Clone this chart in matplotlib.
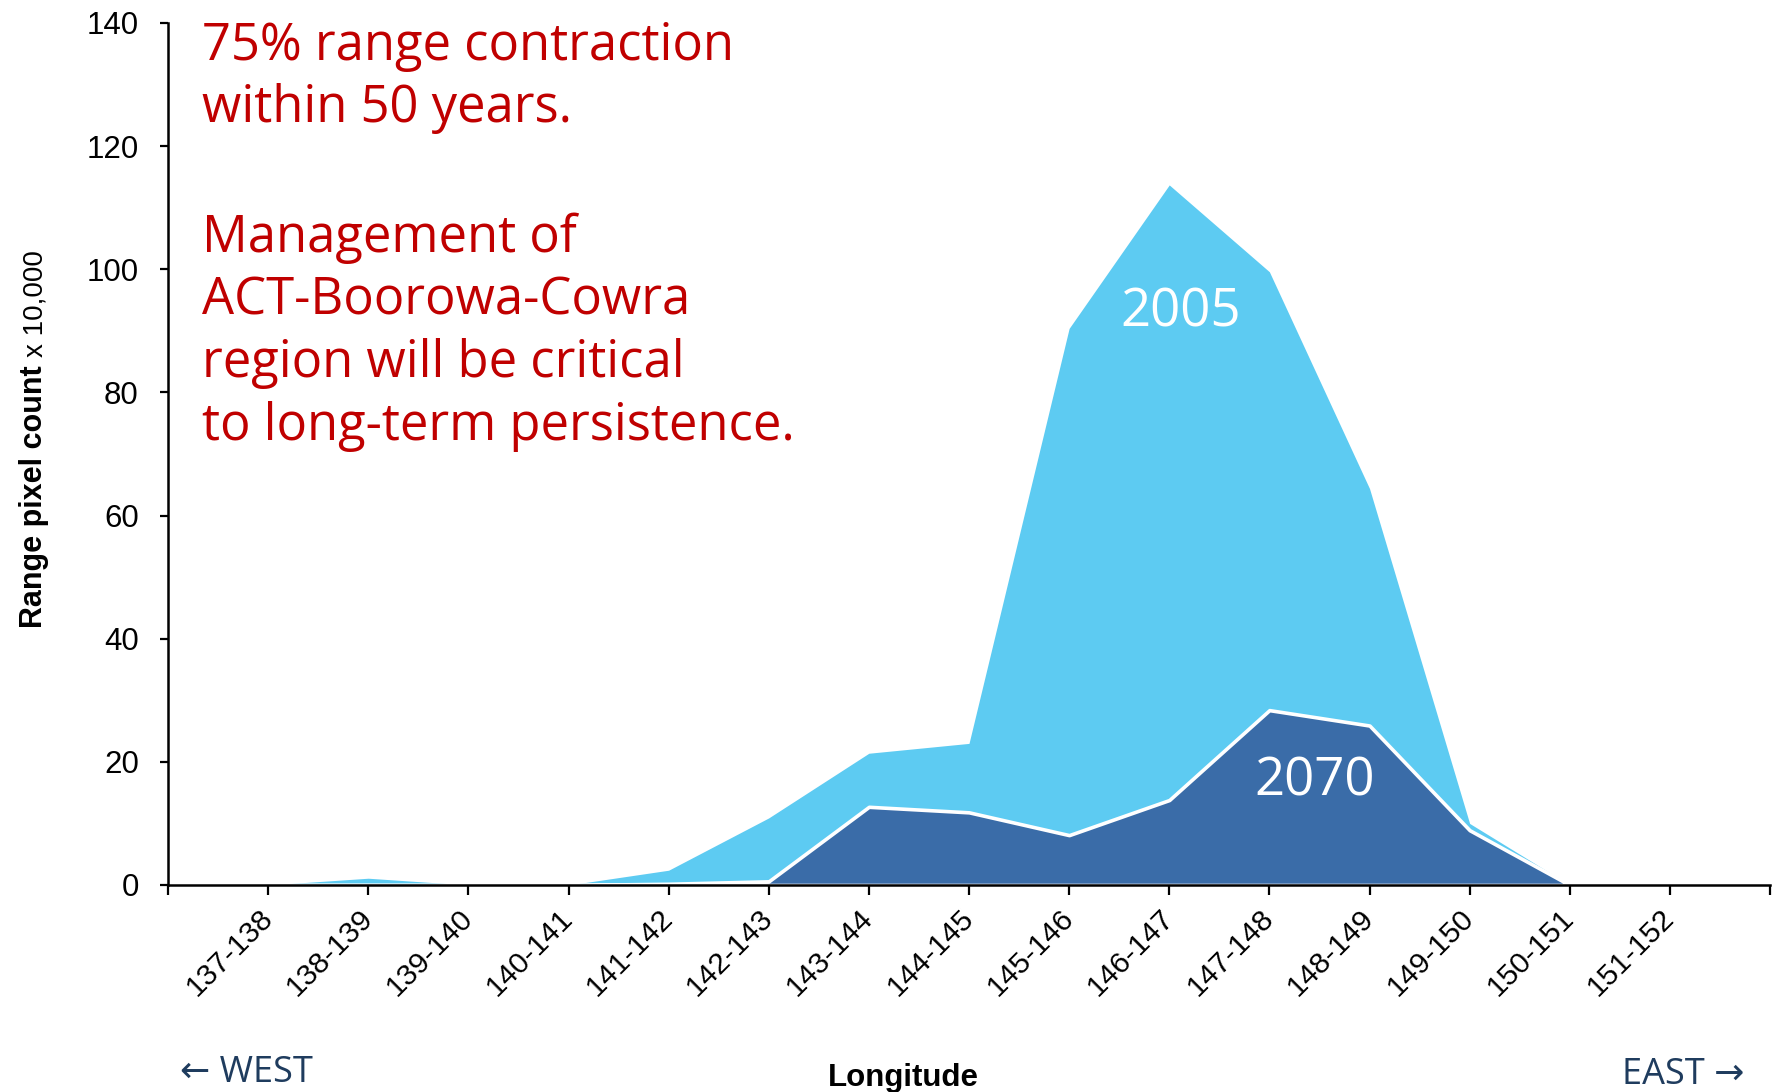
import matplotlib
matplotlib.use("Agg")
import matplotlib.pyplot as plt
from matplotlib import font_manager as fm

# ---------- data (Range pixel count x 10,000 per 1° longitude band) ----------
categories = ["137-138", "138-139", "139-140", "140-141", "141-142", "142-143", "143-144",
              "144-145", "145-146", "146-147", "147-148", "148-149", "149-150", "150-151", "151-152"]
range_2005 = [0, 1.1, 0, 0, 2.4, 10.9, 21.4, 23.0, 90.4, 113.7, 99.6, 64.4, 10.0, 0, 0]
range_2070 = [0, 0, 0, 0, 0.2, 0.6, 12.7, 11.8, 8.1, 13.8, 28.4, 25.9, 8.9, 0, 0]
yticks = [0, 20, 40, 60, 80, 100, 120, 140]

notes_1 = ["75% range contraction", "within 50 years."]
notes_2 = ["Management of", "ACT-Boorowa-Cowra", "region will be critical", "to long-term persistence."]

LIGHT, DARK, RED, NAVY = "#5DCBF2", "#3A6CA8", "#C00000", "#1F3C5E"
W, H = 1777, 1092

names = {f.name for f in fm.fontManager.ttflist}
HAS_NARROW = "Liberation Sans Narrow" in names
AX_FONT = "Liberation Sans Narrow" if HAS_NARROW else "Liberation Sans"
SANS = ["Open Sans", "DejaVu Sans"]


def px(x, y):
    return x / W, 1 - y / H


fig = plt.figure(figsize=(W / 100, H / 100), dpi=100)
ax = fig.add_axes([168 / W, 1 - 885 / H, (1770 - 168) / W, (885 - 23) / H])

xs = list(range(1, len(categories) + 1))
ax.fill_between(xs, range_2005, color=LIGHT, lw=0, zorder=1)
ax.fill_between(xs, range_2070, facecolor=DARK, edgecolor="white", lw=2.6, zorder=2)

ax.set_xlim(0, len(categories) + 1)
ax.set_ylim(0, 140)
ax.set_xticks(range(0, len(categories) + 2))
ax.set_xticklabels([""] + categories + [""], rotation=45, ha="right", va="center",
                   rotation_mode="anchor", family="Liberation Sans", fontsize=21.5)
ax.set_yticks(yticks)
ax.set_yticklabels([str(v) for v in yticks], family="Liberation Sans", fontsize=22.5)
ax.tick_params(axis="x", length=7, width=1.6, pad=14)
ax.tick_params(axis="y", length=6, width=1.6, pad=15)
for s in ["top", "right"]:
    ax.spines[s].set_visible(False)
for s in ["left", "bottom"]:
    ax.spines[s].set_linewidth(1.8)

# series labels
ax.text(10.11, 93.0, "2005", color="white", fontsize=38, family=SANS, ha="center", va="center")
ax.text(11.45, 16.8, "2070", color="white", fontsize=38, family=SANS, ha="center", va="center")

# red notes
for i, line in enumerate(notes_1):
    fig.text(*px(202, 60 + 62.5 * i), line, color=RED, fontsize=36.5, family=SANS, va="baseline")
for i, line in enumerate(notes_2):
    fig.text(*px(202, 252 + 62.5 * i), line, color=RED, fontsize=36.5, family=SANS, va="baseline")

# axis titles
bold_size = 27 if HAS_NARROW else 22
small_size = 24 if HAS_NARROW else 20
fig.text(*px(42, 628), "Range pixel count", rotation=90, rotation_mode="anchor", ha="left",
         va="baseline", family=AX_FONT, weight="bold", fontsize=bold_size)
fig.text(*px(42, 357), "x 10,000", rotation=90, rotation_mode="anchor", ha="left",
         va="baseline", family=AX_FONT, fontsize=small_size)
fig.text(*px(903, 1086), "Longitude", ha="center", va="baseline", family=AX_FONT,
         weight="bold", fontsize=27.5 if HAS_NARROW else 22.5)

fig.text(*px(180, 1082), "\u2190 WEST", color=NAVY, fontsize=26, family=SANS, ha="left", va="baseline")
fig.text(*px(1744, 1084), "EAST \u2192", color=NAVY, fontsize=26, family=SANS, ha="right", va="baseline")

fig.savefig("out.png", dpi=100)
